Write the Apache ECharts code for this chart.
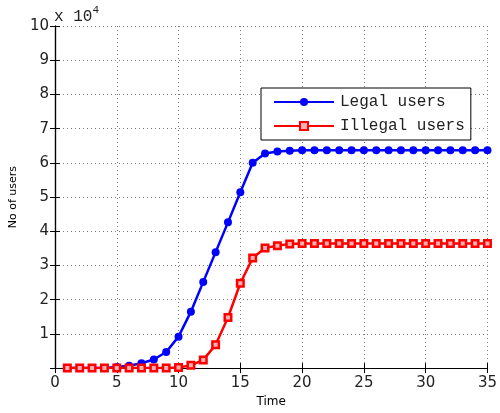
<!DOCTYPE html>
<html><head><meta charset="utf-8">
<script src="https://cdn.jsdelivr.net/npm/echarts@6/dist/echarts.min.js"></script>
<style>html,body{margin:0;padding:0;background:#fff}#c{width:500px;height:413px}</style>
</head><body><div id="c"></div>
<script>
const time = [1,2,3,4,5,6,7,8,9,10,11,12,13,14,15,16,17,18,19,20,21,22,23,24,25,26,27,28,29,30,31,32,33,34,35];
const legalUsers = [0,0,0,0,300,700,1400,2500,4700,9200,16500,25200,33900,42600,51400,60000,62700,63300,63500,63700,63700,63700,63700,63700,63700,63700,63700,63700,63700,63700,63700,63700,63700,63700,63700];
const illegalUsers = [0,0,0,0,0,0,0,0,0,200,800,2400,6800,14800,24800,32200,35100,35800,36300,36400,36400,36400,36400,36400,36400,36400,36400,36400,36400,36400,36400,36400,36400,36400,36400];
const seriesNames = ['Legal users','Illegal users'];

const chart = echarts.init(document.getElementById('c'));
const gridLine = {show:true, lineStyle:{color:'#777', type:[1,3], width:1}};
const axLine = {show:true, lineStyle:{color:'#000', width:1.2}};
const tick = {show:true, inside:true, length:5, lineStyle:{color:'#000'}};
const lbl = {fontFamily:'DejaVu Sans', fontSize:15, color:'#222'};
chart.setOption({
  animation:false,
  grid:{left:54, right:9, top:26, bottom:43},
  graphic:[{type:'text', left:54, top:5, style:{text:'x 10{s|4}', font:'16px "Liberation Mono"', fill:'#222', rich:{s:{fontSize:11, fontFamily:'Liberation Mono', verticalAlign:'top', padding:[0,0,12,0]}}}}],
  legend:{
    left:261, top:88, orient:'vertical', itemWidth:60, itemHeight:10, itemGap:8,
    padding:[6,6,6,12], borderColor:'#000', borderWidth:1, backgroundColor:'#fff',
    textStyle:{fontFamily:'Liberation Mono', fontSize:16, color:'#222', padding:[0,0,0,1]},
    data:seriesNames
  },
  xAxis:[
    {type:'value', min:0, max:35, interval:5, name:'Time', nameLocation:'middle', nameGap:25,
     nameTextStyle:{fontFamily:'DejaVu Sans', fontSize:12, color:'#000'},
     axisLine:axLine, axisTick:tick, splitLine:gridLine, axisLabel:Object.assign({margin:8},lbl)},
    {type:'value', position:'top', min:0, max:35, interval:5, axisLine:axLine, axisTick:tick, axisLabel:{show:false}, splitLine:{show:false}}
  ],
  yAxis:[
    {type:'value', min:0, max:100000, interval:10000, name:'No of users', nameLocation:'middle', nameGap:34,
     nameTextStyle:{fontFamily:'DejaVu Sans', fontSize:11, color:'#000'},
     axisLine:axLine, axisTick:tick, splitLine:gridLine,
     axisLabel:Object.assign({margin:6, formatter:v=>v===0?'':String(v/10000)},lbl)},
    {type:'value', position:'right', min:0, max:100000, interval:10000, axisLine:axLine, axisTick:tick, axisLabel:{show:false}, splitLine:{show:false}}
  ],
  series:[
    {name:seriesNames[0], type:'line', data:time.map((t,i)=>[t,legalUsers[i]]), symbol:'circle', symbolSize:8,
     lineStyle:{color:'#0000ff', width:2.5}, itemStyle:{color:'#0000ff'}, z:2},
    {name:seriesNames[1], type:'line', data:time.map((t,i)=>[t,illegalUsers[i]]), symbol:'rect', symbolSize:6.5,
     lineStyle:{color:'#ff0000', width:2.5}, itemStyle:{color:'#ffb0b0', borderColor:'#ff0000', borderWidth:2.5}, z:3}
  ]
});
</script></body></html>
